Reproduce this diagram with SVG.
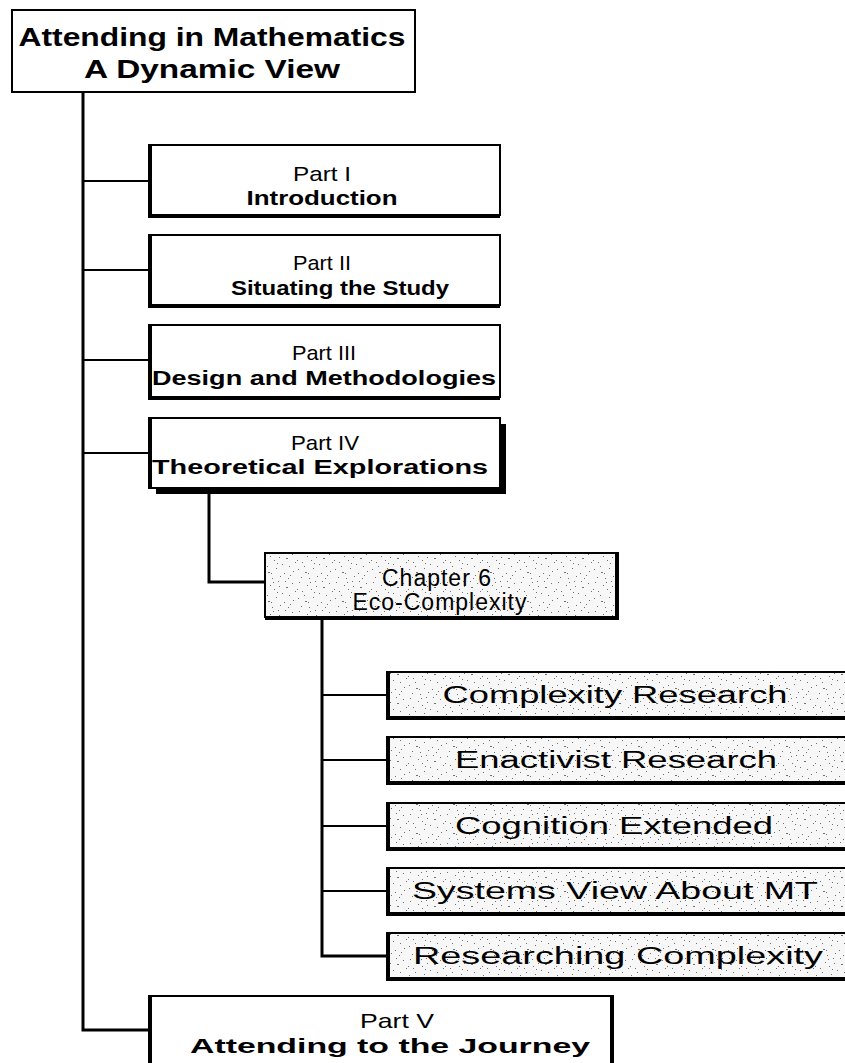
<svg xmlns="http://www.w3.org/2000/svg" width="845" height="1063" viewBox="0 0 845 1063">
  <style>
    .box { fill: #ffffff; stroke: #000000; stroke-width: 2; }
    .grain { fill: url(#stipple); stroke: #000000; stroke-width: 2; }
    .edge { stroke: #000000; stroke-width: 4; fill: none; }
    .link { stroke: #000000; stroke-width: 3; fill: none; }
    .twig { stroke: #000000; stroke-width: 2; fill: none; }
    .shadow { fill: #000000; }
    text { font-family: "Liberation Sans", Arial, sans-serif; fill: #000000; text-anchor: middle; }
    .title { font-size: 26px; font-weight: bold; }
    .lbl { font-size: 21px; }
    .bold { font-size: 20px; font-weight: bold; }
    .sub { font-size: 23px; }
    .chap { font-size: 23px; letter-spacing: 1px; }
  </style>
  <defs>
    <pattern id="stipple" width="37" height="29" patternUnits="userSpaceOnUse">
      <rect width="37" height="29" fill="#f7f7f7"/>
      <g fill="#707070">
        <rect x="3" y="2" width="1" height="1"/><rect x="11" y="5" width="1" height="1"/>
        <rect x="19" y="1" width="1" height="1"/><rect x="27" y="7" width="2" height="1"/>
        <rect x="33" y="3" width="1" height="1"/><rect x="6" y="11" width="1" height="1"/>
        <rect x="15" y="9" width="1" height="1"/><rect x="23" y="13" width="1" height="1"/>
        <rect x="30" y="15" width="1" height="1"/><rect x="2" y="18" width="1" height="1"/>
        <rect x="9" y="21" width="2" height="1"/><rect x="17" y="17" width="1" height="1"/>
        <rect x="25" y="22" width="1" height="1"/><rect x="34" y="20" width="1" height="1"/>
        <rect x="5" y="26" width="1" height="1"/><rect x="13" y="27" width="1" height="1"/>
        <rect x="21" y="25" width="1" height="1"/><rect x="29" y="27" width="1" height="1"/>
        <rect x="36" y="11" width="1" height="1"/><rect x="8" y="15" width="1" height="1"/>
        <rect x="20" y="6" width="1" height="1"/><rect x="31" y="24" width="1" height="1"/>
        <rect x="14" y="2" width="1" height="1"/><rect x="26" y="1" width="1" height="1"/>
        <rect x="1" y="9" width="1" height="1"/><rect x="18" y="12" width="1" height="1"/>
        <rect x="12" y="22" width="1" height="1"/>
      </g>
    </pattern>
  </defs>

  <!-- connectors -->
  <g id="connectors">
    <path class="link" d="M83 92 V1030 H150"/>
    <path class="twig" d="M83 181 H150 M83 270 H150 M83 360 H150 M83 453 H150"/>
    <path class="link" d="M209 494 V582 H265"/>
    <path class="link" d="M322 618 V956 H388"/>
    <path class="twig" d="M322 695 H388 M322 760 H388 M322 826 H388 M322 891 H388"/>
  </g>

  <!-- root -->
  <g id="root">
    <rect class="box" x="12" y="10" width="403" height="82"/>
    <text class="title" x="212" y="46" textLength="387" lengthAdjust="spacingAndGlyphs">Attending in Mathematics</text>
    <text class="title" x="212" y="78" textLength="256" lengthAdjust="spacingAndGlyphs">A Dynamic View</text>
  </g>

  <g id="part1">
    <rect class="box" x="150" y="145" width="350" height="70"/>
    <path class="edge" d="M150 144 V216 H500"/>
    <text class="lbl" x="322" y="181" textLength="58" lengthAdjust="spacingAndGlyphs">Part I</text>
    <text class="bold" x="322" y="205" textLength="151" lengthAdjust="spacingAndGlyphs">Introduction</text>
  </g>

  <g id="part2">
    <rect class="box" x="150" y="235" width="350" height="70"/>
    <path class="edge" d="M150 234 V306 H500"/>
    <text class="lbl" x="322" y="270" textLength="58" lengthAdjust="spacingAndGlyphs">Part II</text>
    <text class="bold" x="340" y="295" textLength="218" lengthAdjust="spacingAndGlyphs">Situating the Study</text>
  </g>

  <g id="part3">
    <rect class="box" x="150" y="325" width="350" height="72"/>
    <path class="edge" d="M150 324 V398 H500"/>
    <text class="lbl" x="324" y="360" textLength="64" lengthAdjust="spacingAndGlyphs">Part III</text>
    <text class="bold" x="324" y="385" textLength="344" lengthAdjust="spacingAndGlyphs">Design and Methodologies</text>
  </g>

  <g id="part4">
    <rect class="shadow" x="156" y="424" width="350" height="70"/>
    <rect class="box" x="150" y="418" width="350" height="70"/>
    <path class="edge" d="M150 417 V489"/>
    <text class="lbl" x="325" y="450" textLength="68" lengthAdjust="spacingAndGlyphs">Part IV</text>
    <text class="bold" x="320" y="474" textLength="336" lengthAdjust="spacingAndGlyphs">Theoretical Explorations</text>
  </g>

  <g id="chapter6">
    <rect class="grain" x="265" y="553" width="353" height="64"/>
    <path class="edge" d="M617 552 V618 H265"/>
    <text class="chap" x="437" y="586">Chapter 6</text>
    <text class="chap" x="440" y="610">Eco-Complexity</text>
  </g>

  <g id="complexity-research">
    <rect class="grain" x="388" y="672" width="470" height="45"/>
    <path class="edge" d="M388 671 V718 H845"/>
    <text class="sub" x="615" y="703" textLength="345" lengthAdjust="spacingAndGlyphs">Complexity Research</text>
  </g>

  <g id="enactivist-research">
    <rect class="grain" x="388" y="737" width="470" height="45"/>
    <path class="edge" d="M388 736 V783 H845"/>
    <text class="sub" x="616" y="768" textLength="322" lengthAdjust="spacingAndGlyphs">Enactivist Research</text>
  </g>

  <g id="cognition-extended">
    <rect class="grain" x="388" y="803" width="470" height="45"/>
    <path class="edge" d="M388 802 V849 H845"/>
    <text class="sub" x="614" y="834" textLength="318" lengthAdjust="spacingAndGlyphs">Cognition Extended</text>
  </g>

  <g id="systems-view">
    <rect class="grain" x="388" y="868" width="470" height="45"/>
    <path class="edge" d="M388 867 V914 H845"/>
    <text class="sub" x="615" y="899" textLength="406" lengthAdjust="spacingAndGlyphs">Systems View About MT</text>
  </g>

  <g id="researching-complexity">
    <rect class="grain" x="388" y="933" width="470" height="45"/>
    <path class="edge" d="M388 932 V979 H845"/>
    <text class="sub" x="618" y="964" textLength="410" lengthAdjust="spacingAndGlyphs">Researching Complexity</text>
  </g>

  <g id="part5">
    <rect class="box" x="150" y="996" width="462" height="80"/>
    <path class="edge" d="M150 995 V1070 M612 995 V1070"/>
    <text class="lbl" x="397" y="1028" textLength="74" lengthAdjust="spacingAndGlyphs">Part V</text>
    <text class="bold" x="390" y="1053" textLength="400" lengthAdjust="spacingAndGlyphs">Attending to the Journey</text>
  </g>
</svg>
